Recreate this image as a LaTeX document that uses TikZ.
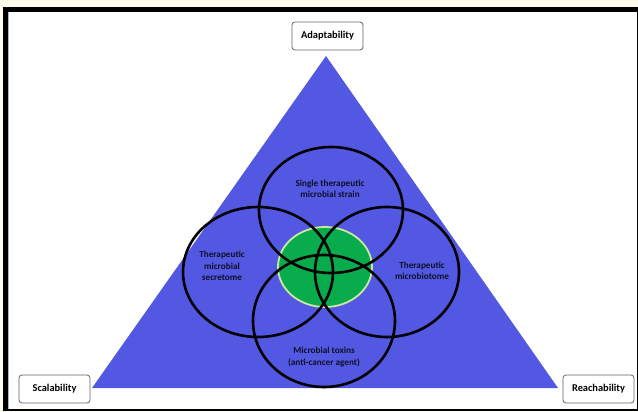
\documentclass[tikz,border=0pt]{standalone}
\usepackage{fontspec}
\setmainfont{Carlito}
\usetikzlibrary{shapes.geometric}
\definecolor{cream}{RGB}{255,251,234}
\definecolor{triblue}{RGB}{82,88,226}
\definecolor{midgreen}{RGB}{8,172,76}
\definecolor{palegreen}{RGB}{204,232,160}
\definecolor{boxgray}{RGB}{100,100,100}
\definecolor{labelink}{RGB}{16,16,40}
\tikzset{
  ring/.style={ellipse, draw=black, line width=2.6pt, inner sep=0pt},
  lbl/.style={font=\fontsize{9.2}{11.3}\selectfont\bfseries, align=center, text=labelink},
  cornerbox/.style={draw=boxgray, line width=0.8pt, rounded corners=3pt, fill=white,
    font=\fontsize{10.4}{12}\selectfont\bfseries, inner sep=0pt, minimum height=28pt}
}
\begin{document}
\begin{tikzpicture}[x=1pt,y=-1pt]
\useasboundingbox (0,0) rectangle (638,412);
\fill[cream] (0,0) rectangle (638,412);
\fill[black] (3,7) rectangle (638,411);
\fill[white] (8,12) rectangle (636.5,409.2);
\draw[gray!60, line width=0.6pt] (8.5,12) -- (8.5,409);
% triangle
\coordinate (apex) at (326,56);
\coordinate (bl) at (92,388);
\coordinate (br) at (558,388);
\fill[triblue] (apex) -- (br) -- (bl) -- cycle;
% green core
\node[ellipse, fill=midgreen, draw=palegreen, line width=1.8pt, minimum width=94pt, minimum height=80pt, inner sep=0pt] (core) at (325,267) {};
% rings
\node[ring, minimum width=144pt, minimum height=126pt] (top) at (331,210) {};
\node[ring, minimum width=150pt, minimum height=130pt] (left) at (258,272) {};
\node[ring, minimum width=144pt, minimum height=130pt] (right) at (387,272) {};
\node[ring, minimum width=142pt, minimum height=132pt] (bottom) at (324,321) {};
% labels
\node[lbl] (ttop) at (330,189) {Single therapeutic\\microbial strain};
\node[lbl] (tleft) at (222,266) {Therapeutic\\microbial\\secretome};
\node[lbl] (tright) at (422,271) {Therapeutic\\microbiotome};
\node[lbl] (tbottom) at (324,357) {Microbial toxins\\(anti-cancer agent)};
% corner boxes
\node[cornerbox, minimum width=71pt] (adapt) at (327.5,36) {Adaptability};
\node[cornerbox, minimum width=71pt] (scal) at (54.5,389) {Scalability};
\node[cornerbox, minimum width=71pt] (reach) at (598.5,389) {Reachability};
\end{tikzpicture}
\end{document}
